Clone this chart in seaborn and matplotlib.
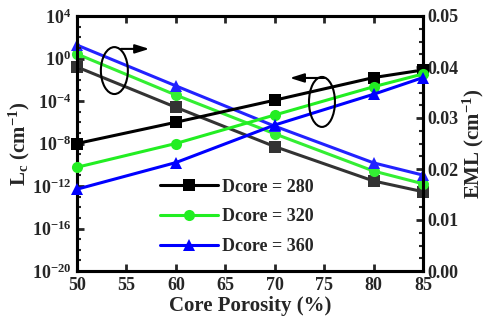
import numpy as np
import pandas as pd
import matplotlib
matplotlib.use("Agg")
import matplotlib.pyplot as plt
import seaborn as sns
from matplotlib.patches import Ellipse
from matplotlib.ticker import LogLocator, FixedLocator, MultipleLocator, NullFormatter

# ---- data ----
porosity = [50, 60, 70, 80, 85]
series_names = ["Dcore = 280", "Dcore = 320", "Dcore = 360"]
lc_280 = [1.0e-8, 1.0e-6, 1.2e-4, 1.6e-2, 8.3e-2]
lc_320 = [5.8e-11, 1.0e-8, 4.8e-6, 2.2e-3, 3.5e-2]
lc_360 = [5.0e-13, 1.6e-10, 5.5e-7, 4.3e-4, 1.6e-2]
eml_280 = [0.0400, 0.0321, 0.0244, 0.01765, 0.01555]
eml_320 = [0.04255, 0.0345, 0.0269, 0.0196, 0.0171]
eml_360 = [0.0443, 0.0363, 0.0284, 0.0212, 0.0188]
x_ticks = [50, 55, 60, 65, 70, 75, 80, 85]

sns.set_theme(style="ticks")
plt.rcParams["font.family"] = ["Liberation Serif", "DejaVu Serif"]
plt.rcParams["font.weight"] = "bold"
plt.rcParams["mathtext.fontset"] = "custom"
plt.rcParams["mathtext.rm"] = "Liberation Serif:bold"
plt.rcParams["mathtext.it"] = "Liberation Serif:italic:bold"
plt.rcParams["mathtext.bf"] = "Liberation Serif:bold"

fig = plt.figure(figsize=(4.85, 3.24), dpi=100)
ax = fig.add_axes([77/485, 53/324, 346/485, 255/324])
ax2 = ax.twinx()

lc_df = pd.DataFrame({
    "x": porosity * 3,
    "y": lc_280 + lc_320 + lc_360,
    "s": [series_names[0]] * 5 + [series_names[1]] * 5 + [series_names[2]] * 5,
})
eml_df = pd.DataFrame({
    "x": porosity * 3,
    "y": eml_280 + eml_320 + eml_360,
    "s": [series_names[0]] * 5 + [series_names[1]] * 5 + [series_names[2]] * 5,
})

lc_colors = {series_names[0]: "#000000", series_names[1]: "#22ee22", series_names[2]: "#0000ff"}
eml_colors = {series_names[0]: "#333333", series_names[1]: "#33ee33", series_names[2]: "#2222ff"}
markers = {series_names[0]: "s", series_names[1]: "o", series_names[2]: "^"}

for name in series_names:
    d = lc_df[lc_df.s == name]
    sns.lineplot(data=d, x="x", y="y", ax=ax, color=lc_colors[name], marker=markers[name],
                 markersize=8, markeredgewidth=0, linewidth=2.2, label=name, clip_on=False, zorder=5)
    d2 = eml_df[eml_df.s == name]
    sns.lineplot(data=d2, x="x", y="y", ax=ax2, color=eml_colors[name], marker=markers[name],
                 markersize=8, markeredgewidth=0, linewidth=2.2, legend=False, clip_on=False, zorder=5)

ax.set_yscale("log")
ax.set_ylim(1e-20, 1e4)
ax.set_xlim(50, 85)
ax2.set_ylim(0, 0.05)
ax.set_xticks(x_ticks)
ax.yaxis.set_major_locator(FixedLocator([10.0**k for k in range(-20, 5, 4)]))
ax.yaxis.set_minor_locator(FixedLocator([10.0**k for k in range(-20, 5)]))
ax.yaxis.set_minor_formatter(NullFormatter())
ax2.yaxis.set_major_locator(MultipleLocator(0.01))
ax2.yaxis.set_minor_locator(MultipleLocator(0.0025))
ax2.set_yticklabels([f"{v:.2f}" for v in ax2.get_yticks()])

for a in (ax, ax2):
    for sp in a.spines.values():
        sp.set_linewidth(2.2)
        sp.set_color("black")
ax.tick_params(axis="both", which="major", direction="in", length=5, width=2, labelsize=13,
               top=True, pad=4)
ax.tick_params(axis="y", which="minor", direction="in", length=3, width=1.5)
ax.tick_params(axis="x", which="major", top=True)
ax2.tick_params(axis="y", which="major", direction="in", length=5, width=2, labelsize=13, pad=3)
ax2.tick_params(axis="y", which="minor", direction="in", length=3, width=1.5)
for lab in ax.get_xticklabels() + ax.get_yticklabels() + ax2.get_yticklabels():
    lab.set_fontweight("bold")

ax.set_xlabel("Core Porosity (%)", fontsize=15, fontweight="bold", labelpad=2)
ax.set_ylabel(r"L$_\mathregular{c}$ (cm$^{\mathregular{-1}}$)", fontsize=15, fontweight="bold", labelpad=0)
ax2.set_ylabel(r"EML (cm$^{\mathregular{-1}}$)", fontsize=15, fontweight="bold", labelpad=2)
ax.set_zorder(ax2.get_zorder() + 1)
ax.patch.set_visible(False)

leg = ax.legend(loc="center left", bbox_to_anchor=(0.24, 0.212), frameon=False,
                prop={"family": "Liberation Serif", "weight": "bold", "size": 13},
                handlelength=3.2, handletextpad=0.25, labelspacing=0.7,
                borderpad=0, borderaxespad=0)

# annotations: ellipses with arrows
e1 = Ellipse((0.108, 0.786), 0.078, 0.184, transform=ax.transAxes, fill=False,
             edgecolor="black", linewidth=1.5, zorder=10)
e2 = Ellipse((0.708, 0.663), 0.075, 0.196, transform=ax.transAxes, fill=False,
             edgecolor="black", linewidth=1.5, zorder=10)
ax.add_patch(e1)
ax.add_patch(e2)
arrow_style = "-|>,head_length=0.7,head_width=0.22"
ax.annotate("", xy=(0.217, 0.871), xytext=(0.119, 0.871), xycoords="axes fraction",
            arrowprops=dict(arrowstyle=arrow_style, color="black", lw=1.5, mutation_scale=12))
ax.annotate("", xy=(0.607, 0.757), xytext=(0.723, 0.757), xycoords="axes fraction",
            arrowprops=dict(arrowstyle=arrow_style, color="black", lw=1.5, mutation_scale=12))

fig.savefig("out.png", dpi=100)
